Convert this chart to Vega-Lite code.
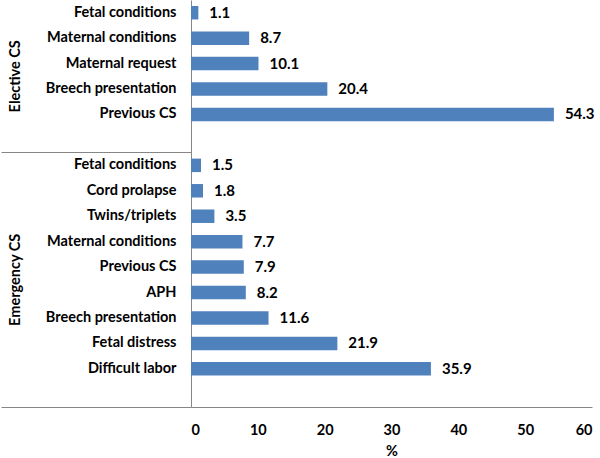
{
  "$schema": "https://vega.github.io/schema/vega-lite/v6.json",
  "width": 401,
  "height": 407,
  "padding": 0,
  "background": "white",
  "config": {
    "font": "Lato",
    "view": {"stroke": null},
    "axis": {"domainColor": "#868686", "tickColor": "#868686", "labelColor": "black", "titleColor": "black", "labelFont": "Lato", "labelFontWeight": "bold", "labelFontSize": 14.5, "titleFont": "Lato", "titleFontWeight": "bold", "titleFontSize": 14.5}
  },
  "data": {
    "values": [
      {"group": "Elective CS", "cause": "Fetal conditions", "pct": 1.1},
      {"group": "Elective CS", "cause": "Maternal conditions", "pct": 8.7},
      {"group": "Elective CS", "cause": "Maternal request", "pct": 10.1},
      {"group": "Elective CS", "cause": "Breech presentation", "pct": 20.4},
      {"group": "Elective CS", "cause": "Previous CS", "pct": 54.3},
      {"group": "Emergency CS", "cause": "Fetal conditions", "pct": 1.5},
      {"group": "Emergency CS", "cause": "Cord prolapse", "pct": 1.8},
      {"group": "Emergency CS", "cause": "Twins/triplets", "pct": 3.5},
      {"group": "Emergency CS", "cause": "Maternal conditions", "pct": 7.7},
      {"group": "Emergency CS", "cause": "Previous CS", "pct": 7.9},
      {"group": "Emergency CS", "cause": "APH", "pct": 8.2},
      {"group": "Emergency CS", "cause": "Breech presentation", "pct": 11.6},
      {"group": "Emergency CS", "cause": "Fetal distress", "pct": 21.9},
      {"group": "Emergency CS", "cause": "Difficult labor", "pct": 35.9}
    ]
  },
  "transform": [{"calculate": "datum.group + '|' + datum.cause", "as": "key"}],
  "encoding": {
    "y": {
      "field": "key",
      "type": "nominal",
      "scale": {
        "domain": [
          "Elective CS|Fetal conditions", "Elective CS|Maternal conditions", "Elective CS|Maternal request", "Elective CS|Breech presentation", "Elective CS|Previous CS", "Elective CS|",
          "Emergency CS|Fetal conditions", "Emergency CS|Cord prolapse", "Emergency CS|Twins/triplets", "Emergency CS|Maternal conditions", "Emergency CS|Previous CS", "Emergency CS|APH", "Emergency CS|Breech presentation", "Emergency CS|Fetal distress", "Emergency CS|Difficult labor", "Emergency CS|"
        ],
        "paddingInner": 0,
        "paddingOuter": 0
      }
    }
  },
  "layer": [
    {
      "mark": {"type": "bar", "color": "#4F81BD", "height": {"band": 0.53}},
      "encoding": {
        "x": {
          "field": "pct",
          "type": "quantitative",
          "scale": {"domain": [0, 60], "nice": false},
          "axis": {"values": [0, 10, 20, 30, 40, 50, 60], "grid": false, "ticks": false, "labelPadding": 16, "title": "%", "titlePadding": 8}
        },
        "y": {
          "field": "key",
          "type": "nominal",
          "axis": {"orient": "left", "title": null, "ticks": false, "labelPadding": 15, "labelExpr": "split(datum.value, '|')[1]"}
        }
      }
    },
    {
      "mark": {"type": "text", "align": "left", "baseline": "middle", "dx": 11, "fontWeight": "bold", "fontSize": 15, "color": "black"},
      "encoding": {
        "x": {"field": "pct", "type": "quantitative"},
        "text": {"field": "pct", "type": "quantitative", "format": ".1f"},
        "y": {
          "field": "key",
          "type": "nominal",
          "axis": {
            "orient": "left",
            "title": null,
            "domain": false,
            "bandPosition": 1,
            "values": ["Elective CS|Maternal request", "Elective CS|", "Emergency CS|Previous CS", "Emergency CS|"],
            "tickSize": 190,
            "tickOpacity": {"condition": {"test": "datum.value == 'Elective CS|' || datum.value == 'Emergency CS|'", "value": 1}, "value": 0},
            "labelAngle": -90,
            "labelAlign": "center",
            "labelBaseline": "alphabetic",
            "labelPadding": -18,
            "labelOffset": 12.72,
            "labelFontSize": 14.5,
            "labelExpr": "datum.value == 'Elective CS|Maternal request' ? 'Elective CS' : (datum.value == 'Emergency CS|Previous CS' ? 'Emergency CS' : '')"
          }
        }
      }
    }
  ],
  "resolve": {"axis": {"y": "independent"}}
}
